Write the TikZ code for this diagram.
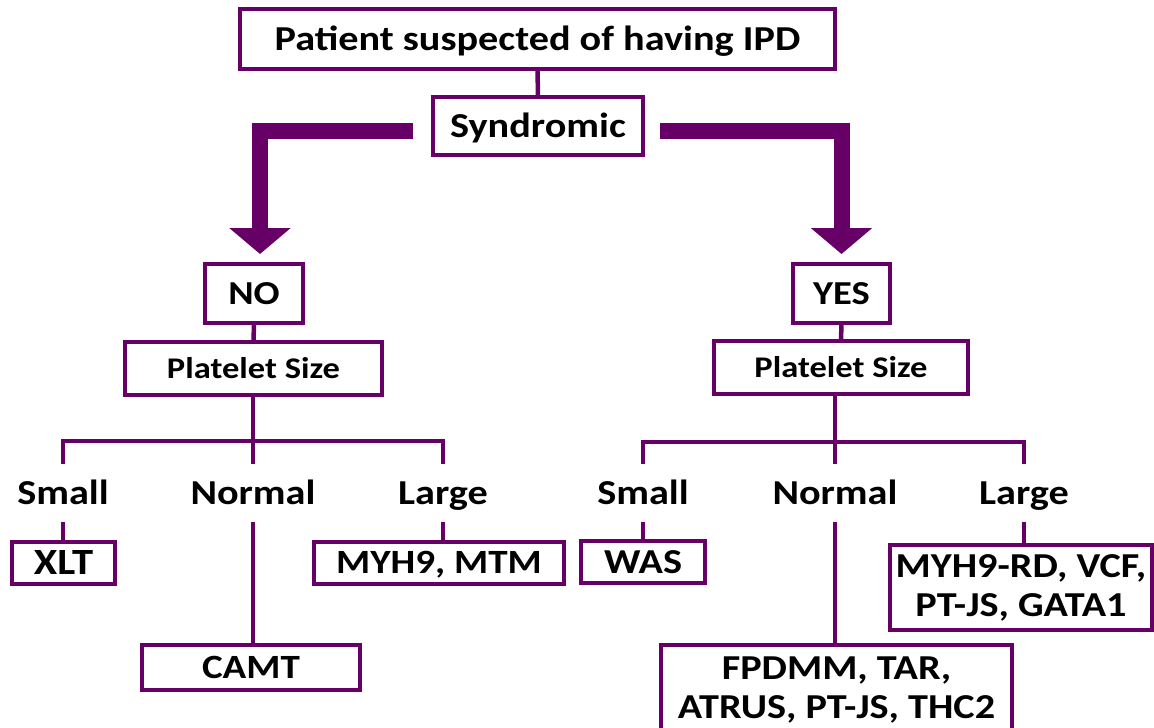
\documentclass[tikz,border=0pt]{standalone}
\usepackage{fontspec}
\setmainfont{Carlito}[FakeStretch=1.15]
\usetikzlibrary{arrows.meta}
\definecolor{pur}{RGB}{102,0,102}
\begin{document}
\begin{tikzpicture}[x=1pt,y=-1pt,
  bx/.style={draw=pur, line width=4.5pt, inner sep=0pt, outer sep=0pt, align=center},
  fA/.style={font=\bfseries\fontsize{35}{42}\selectfont, text height=22.5pt, text depth=0pt},
  fB/.style={font=\bfseries\fontsize{33.5}{40}\selectfont, text height=21.6pt, text depth=0pt},
  fC/.style={font=\bfseries\fontsize{30}{36}\selectfont, text height=19.3pt, text depth=0pt},
  fD/.style={font=\bfseries\fontsize{37}{44}\selectfont, text height=23.8pt, text depth=0pt},
  fE/.style={font=\bfseries\fontsize{34}{41}\selectfont, text height=21.9pt, text depth=0pt},
  fT/.style={font=\bfseries\fontsize{35}{39}\selectfont},
  lbl/.style={inner sep=0pt, outer sep=0pt, minimum height=58pt, fA},
  conn/.style={draw=pur, line width=4.5pt},
  big/.style={draw=pur, line width=16pt, line join=miter, -{Triangle[width=60pt,length=26pt]}}]
\useasboundingbox (0,0) rectangle (1154,728);
% top
\node[bx, fA, minimum width=595pt, minimum height=60pt] (top) at (537.5,39) {Patient suspected of having IPD};
\node[bx, fA, minimum width=210pt, minimum height=58pt] (synd) at (538,126) {Syndromic};
\node[bx, fB, minimum width=98pt, minimum height=59pt] (no) at (254,293.5) {NO};
\node[bx, fB, minimum width=97pt, minimum height=59pt] (yes) at (841.5,293.5) {YES};
\node[bx, fC, minimum width=257pt, minimum height=53pt] (pl) at (253.5,368.5) {Platelet Size};
\node[bx, fC, minimum width=254pt, minimum height=53pt] (pr) at (841,367.5) {Platelet Size};
% labels
\node[lbl] (sl) at (63,493) {Small};
\node[lbl] (nl) at (253,493) {Normal};
\node[lbl] (ll) at (443,493) {Large};
\node[lbl] (sr) at (643,493) {Small};
\node[lbl] (nr) at (835,493) {Normal};
\node[lbl] (lgr) at (1024,493) {Large};
% leaves
\node[bx, fD, minimum width=103pt, minimum height=42pt] (xlt) at (63.5,563) {XLT};
\node[bx, fE, minimum width=250pt, minimum height=42pt] (mtm) at (439,563) {MYH9, MTM};
\node[bx, fE, minimum width=218pt, minimum height=45pt] (camt) at (251,667.5) {CAMT};
\node[bx, fA, minimum width=124pt, minimum height=42pt] (was) at (643,562) {WAS};
\node[bx, fT, minimum width=351pt, minimum height=90pt] (fp) at (836.5,690) {FPDMM, TAR,\\ATRUS, PT-JS, THC2};
\node[bx, fT, minimum width=262pt, minimum height=85pt] (lr) at (1021,587.5) {MYH9-RD, VCF,\\PT-JS, GATA1};
% big arrows
\draw[big, shorten <=20pt, shorten >=10pt] ([yshift=-4.5pt]synd.west) -| ([xshift=6pt]no.north);
\draw[big, shorten <=17pt, shorten >=10pt] ([yshift=-4.5pt]synd.east) -| (yes.north);
% connectors
\draw[conn] (top.south) -- (synd.north);
\draw[conn] (no.south) -- (pl.north);
\draw[conn] (yes.south) -- (pr.north);
\draw[conn] (nl.north |- pl.south) -- (nl.north);
\draw[conn] (sl.north) -- ++(0,-23) -| (ll.north);
\draw[conn] (nr.north |- pr.south) -- (nr.north);
\draw[conn] (sr.north) -- ++(0,-22) -| (lgr.north);
\draw[conn] (sl.south) -- (sl.south |- xlt.north);
\draw[conn] (nl.south) -- (nl.south |- camt.north);
\draw[conn] (ll.south) -- (ll.south |- mtm.north);
\draw[conn] (sr.south) -- (sr.south |- was.north);
\draw[conn] (nr.south) -- (nr.south |- fp.north);
\draw[conn] (lgr.south) -- (lgr.south |- lr.north);
\end{tikzpicture}
\end{document}
